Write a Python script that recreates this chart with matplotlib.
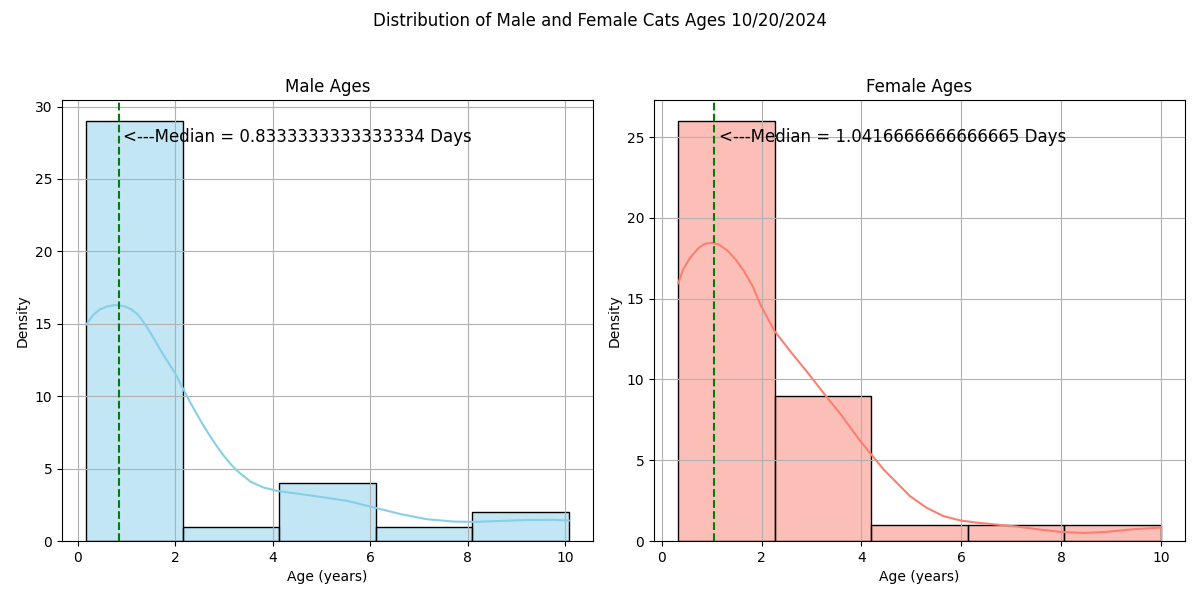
import numpy as np
import matplotlib
matplotlib.use("Agg")
from matplotlib import pyplot as plt
from matplotlib.colors import to_rgba

# histogram bins
male_edges = [0.17, 2.15, 4.13, 6.11, 8.09, 10.07]
male_counts = [29, 1, 4, 1, 2]
female_edges = [0.33, 2.264, 4.198, 6.132, 8.066, 10.0]
female_counts = [26, 9, 1, 1, 1]

# kde curves (count scale)
male_kde_x = [0.17, 0.31, 0.45, 0.59, 0.73, 0.83, 0.97, 1.10, 1.24, 1.38, 1.52, 1.69, 1.86, 2.0,
              2.16, 2.3, 2.44, 2.58, 2.72, 2.86, 3.0, 3.15, 3.3, 3.54, 3.81, 4.09, 4.5, 4.91,
              5.53, 6.08, 6.63, 7.17, 7.72, 8.13, 8.68, 9.23, 9.78, 10.07]
male_kde_y = [14.95, 15.6, 15.99, 16.19, 16.28, 16.28, 16.19, 15.99, 15.6, 14.95, 14.2, 13.2, 12.3, 11.55,
              10.5, 9.6, 8.75, 7.95, 7.2, 6.5, 5.85, 5.25, 4.75, 4.1, 3.69, 3.46, 3.27, 3.08,
              2.77, 2.31, 1.85, 1.5, 1.34, 1.32, 1.39, 1.45, 1.46, 1.41]
female_kde_x = [0.33, 0.43, 0.57, 0.74, 0.87, 1.0, 1.14, 1.31, 1.48, 1.65, 1.82, 1.99, 2.26, 2.6,
                2.93, 3.27, 3.61, 3.95, 4.2, 4.44, 4.64, 4.97, 5.30, 5.64, 5.97, 6.30, 6.77, 7.1,
                7.6, 8.0, 8.45, 8.9, 9.45, 10.0]
female_kde_y = [15.95, 16.81, 17.54, 18.15, 18.4, 18.46, 18.36, 18.0, 17.43, 16.7, 15.78, 14.55, 13.0, 11.65,
                10.4, 9.05, 7.75, 6.3, 5.35, 4.45, 3.82, 2.79, 2.07, 1.55, 1.28, 1.14, 1.0, 0.9,
                0.7, 0.56, 0.5, 0.56, 0.73, 0.83]

male_median = 0.8333333333333334
female_median = 1.0416666666666665


def draw(ax, edges, counts, kx, ky, median, color, title):
    edges = np.array(edges)
    ax.bar(edges[:-1], counts, width=np.diff(edges), align='edge',
           facecolor=to_rgba(color, 0.5), edgecolor='black', linewidth=1)
    ax.plot(kx, ky, color=color, linewidth=1.5)
    ax.axvline(median, color='green', linestyle='--', linewidth=1.5)
    ax.text(median + 0.1, max(counts) * 0.95, "<---Median = " + str(median) + " Days", fontsize=12)
    ax.set_title(title)
    ax.set_xlabel("Age (years)")
    ax.set_ylabel("Density")
    ax.grid(True)


fig, (ax1, ax2) = plt.subplots(1, 2, figsize=(12, 6), dpi=100)
fig.suptitle("Distribution of Male and Female Cats Ages 10/20/2024")
draw(ax1, male_edges, male_counts, male_kde_x, male_kde_y, male_median, 'skyblue', "Male Ages")
draw(ax2, female_edges, female_counts, female_kde_x, female_kde_y, female_median, 'salmon', "Female Ages")
plt.subplots_adjust(left=0.0517, right=0.9875, top=0.8333, bottom=0.0983, wspace=0.115)
plt.savefig("out.png")
